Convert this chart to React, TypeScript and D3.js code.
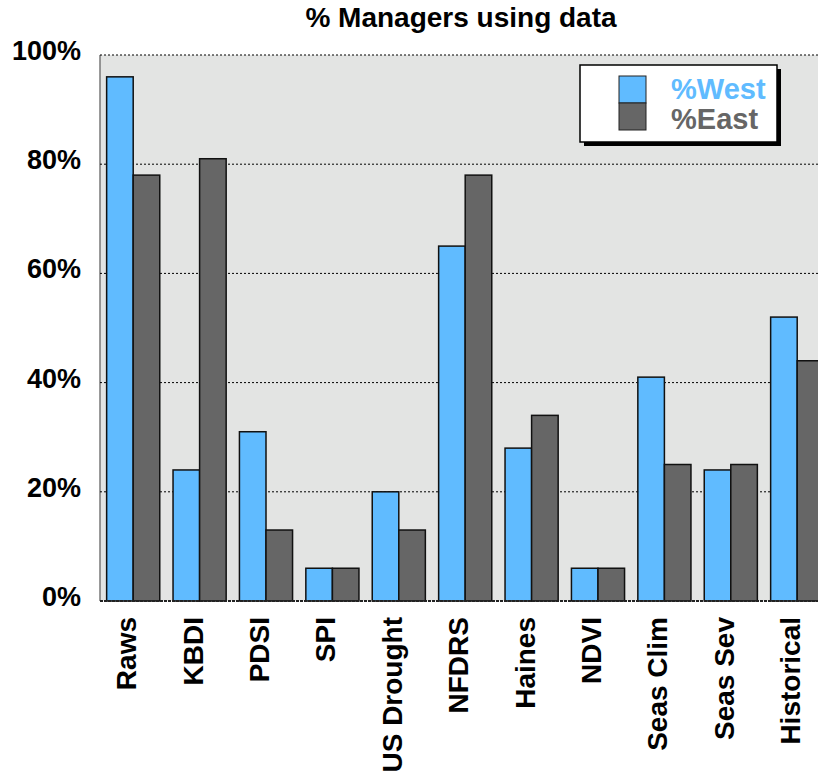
import React from "react";
import * as d3 from "d3";

const categories = ["Raws", "KBDI", "PDSI", "SPI", "US Drought", "NFDRS", "Haines", "NDVI", "Seas Clim", "Seas Sev", "Historical"];
const westValues = [96, 24, 31, 6, 20, 65, 28, 6, 41, 24, 52];
const eastValues = [78, 81, 13, 6, 13, 78, 34, 6, 25, 25, 44];
const yTicks = [0, 20, 40, 60, 80, 100];
const seriesNames = ["%West", "%East"];

const W = 818, H = 778;
const left = 100, top = 55, bottom = 601;
const step = 66.4;
const right = left + step * categories.length;
const WEST = "#60bbff";
const EAST = "#666666";
const font = "Helvetica, Arial, 'Liberation Sans', sans-serif";

export default function App() {
  const x = d3.scaleBand<string>().domain(categories).range([left, right]).paddingInner(0.2).paddingOuter(0.1);
  const y = d3.scaleLinear().domain([0, 100]).range([bottom, top]);
  const bw = x.bandwidth() / 2;
  return (
    <svg width={W} height={H} style={{ position: "absolute", left: 0, top: 0 }} fontFamily={font}>
      <rect x={0} y={0} width={W} height={H} fill="#fff" />
      <text x={461} y={27} textAnchor="middle" fontSize={28} fontWeight="bold">% Managers using data</text>
      <rect x={left} y={top} width={right - left} height={bottom - top} fill="#e3e4e3" />
      <line x1={left} x2={left} y1={top} y2={bottom} stroke="#777" strokeWidth={1.5} />
      {yTicks.map((t) => (
        <g key={t}>
          {t > 0 && (
            <line x1={left} x2={right} y1={y(t)} y2={y(t)} stroke="#000" strokeWidth={1} strokeDasharray="2,2" />
          )}
          <text x={81} y={y(t) + 5} textAnchor="end" fontSize={27} fontWeight="bold">{t}%</text>
        </g>
      ))}
      {categories.map((c, i) => (
        <g key={c}>
          <rect x={x(c)!} y={y(westValues[i])} width={bw} height={bottom - y(westValues[i])} fill={WEST} stroke="#111" strokeWidth={1.5} />
          <rect x={x(c)! + bw} y={y(eastValues[i])} width={bw} height={bottom - y(eastValues[i])} fill={EAST} stroke="#111" strokeWidth={1.5} />
          <text transform={`translate(${x(c)! + bw + 3},617) rotate(-90)`} textAnchor="end" fontSize={28} fontWeight="bold">{c}</text>
        </g>
      ))}
      <line x1={left} x2={right} y1={bottom} y2={bottom} stroke="#222" strokeWidth={2} strokeDasharray="3,1" />
      <g>
        <rect x={584} y={69} width={197} height={77} fill="#000" />
        <rect x={580} y={65} width={197} height={77} fill="#fff" stroke="#000" strokeWidth={1.5} />
        <rect x={619} y={76} width={27} height={27} fill={WEST} stroke="#222" strokeWidth={1} />
        <rect x={619} y={103} width={27} height={27} fill={EAST} stroke="#222" strokeWidth={1} />
        <text x={671} y={99} fontSize={29} fontWeight="bold" fill={WEST}>{seriesNames[0]}</text>
        <text x={671} y={129} fontSize={29} fontWeight="bold" fill={EAST}>{seriesNames[1]}</text>
      </g>
    </svg>
  );
}
